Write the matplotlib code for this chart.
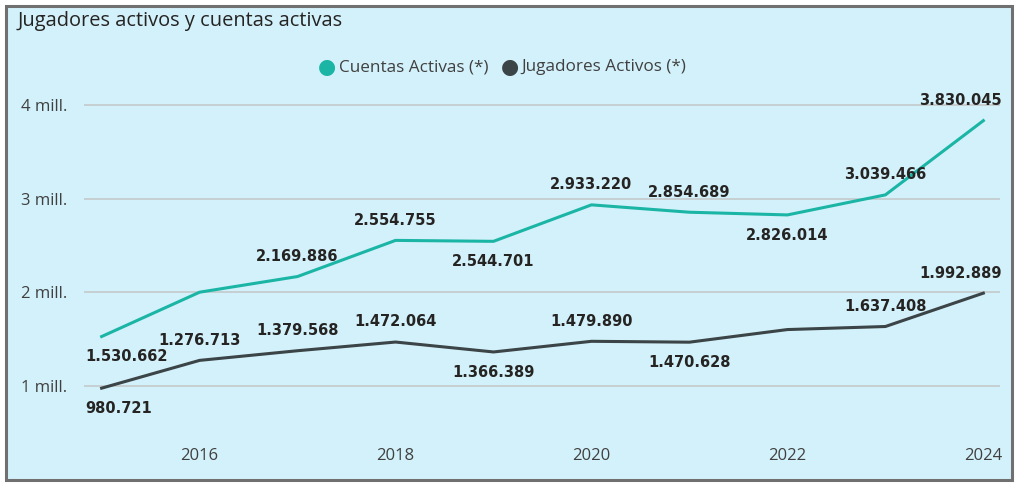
# Jugadores activos y cuentas activas, 2015-2024

import matplotlib.pyplot as plt
from matplotlib.patches import Rectangle

years = [2015, 2016, 2017, 2018, 2019, 2020, 2021, 2022, 2023, 2024]
cuentas = [1530662, 2003000, 2169886, 2554755, 2544701, 2933220, 2854689, 2826014, 3039466, 3830045]
jugadores = [980721, 1276713, 1379568, 1472064, 1366389, 1479890, 1470628, 1605000, 1637408, 1992889]
# label placement: 1 above, -1 below, 0 no label
pos_cuentas = [-1, 0, 1, 1, -1, 1, 1, -1, 1, 1]
pos_jugadores = [-1, 1, 1, 1, -1, 1, -1, 0, 1, 1]
yticks = [1e6, 2e6, 3e6, 4e6]
ytick_labels = ["1 mill.", "2 mill.", "3 mill.", "4 mill."]
xticks = [2016, 2018, 2020, 2022, 2024]

col_c = "#1bb5a5"
col_j = "#3b4447"
bg = "#d3f1fa"
txt = "#252423"
lab_font = ["DejaVu Sans Condensed", "DejaVu Sans"]

plt.rcParams["font.family"] = ["Open Sans", "DejaVu Sans"]

fig = plt.figure(figsize=(10.24, 4.9), dpi=100)
fig.patch.set_facecolor("white")
fig.patches.append(Rectangle((6 / 1024, 1 - 480 / 490), 1006 / 1024, 474 / 490,
                             transform=fig.transFigure, facecolor=bg,
                             edgecolor="#707070", linewidth=2.2, zorder=-10))

ax = fig.add_axes([84 / 1024, 1 - 438 / 490, 916 / 1024, 338 / 490])
ax.set_facecolor("none")
ax.plot(years, cuentas, color=col_c, lw=2.2, solid_joinstyle="round")
ax.plot(years, jugadores, color=col_j, lw=2.2, solid_joinstyle="round")

ax.set_xlim(2014.82, 2024.17)
ax.set_ylim(0.45e6, 4.05e6)
ax.set_yticks(yticks)
ax.set_yticklabels(ytick_labels)
ax.set_xticks(xticks)
ax.set_xticklabels([str(x) for x in xticks])
ax.tick_params(length=0, labelsize=12, colors="#404040")
ax.tick_params(axis="y", pad=12)
ax.tick_params(axis="x", pad=7)
ax.grid(axis="y", color="#c4c9cb", lw=1.2)
ax.set_axisbelow(True)
for s in ax.spines.values():
    s.set_visible(False)


def fmt(v):
    return f"{v:,}".replace(",", ".")


def add_labels(vals, pos):
    n = len(years)
    for i, (x, v, p) in enumerate(zip(years, vals, pos)):
        if p == 0:
            continue
        dx, ha = 0, "center"
        if i == 0:
            dx, ha = -12, "left"
        elif i == n - 1:
            dx, ha = 13, "right"
        ax.annotate(fmt(v), (x, v), xytext=(dx, 14.5 * p), textcoords="offset points",
                    ha=ha, va="center", fontsize=10.5, fontweight="bold",
                    color=txt, family=lab_font)


add_labels(cuentas, pos_cuentas)
add_labels(jugadores, pos_jugadores)

fig.text(18 / 1024, 1 - 21 / 490, "Jugadores activos y cuentas activas",
         fontsize=14.4, color=txt, va="center", ha="left")

# legend
ly = 1 - 67 / 490
fig.text(327 / 1024, ly, "\u25CF", color=col_c, fontsize=15, va="center", ha="center")
fig.text(339 / 1024, ly, "Cuentas Activas (*)", color="#404040", fontsize=12.3,
         va="center", ha="left")
fig.text(510 / 1024, ly, "\u25CF", color=col_j, fontsize=15, va="center", ha="center")
fig.text(521 / 1024, ly, "Jugadores Activos (*)", color="#404040", fontsize=12.3,
         va="center", ha="left")

fig.savefig("out.png", dpi=100)
